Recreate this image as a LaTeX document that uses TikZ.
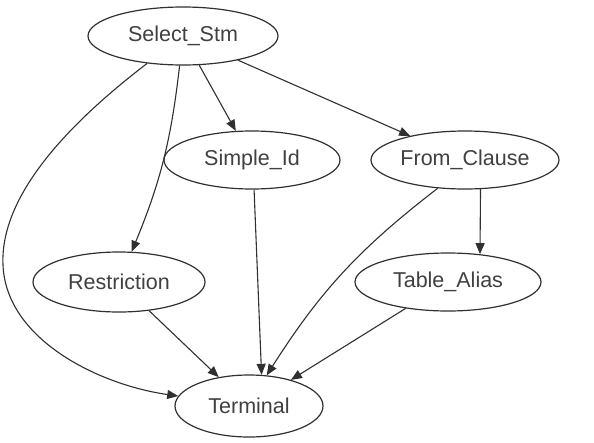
\documentclass[tikz,border=0pt]{standalone}
\usepackage{fontspec}
\setmainfont{Liberation Sans}
\usetikzlibrary{shapes.geometric,arrows.meta}
\definecolor{lncol}{HTML}{303030}
\definecolor{txcol}{HTML}{404040}
\tikzset{
  gnode/.style={ellipse, draw=lncol, line width=1.2pt, inner sep=0pt,
    font=\fontsize{21.5}{25}\selectfont, text=txcol},
  edge/.style={draw=lncol, line width=1.1pt, -{Triangle[length=11pt,width=9pt]}}
}
\begin{document}
\begin{tikzpicture}[x=1pt,y=-1pt]
\useasboundingbox (0,0) rectangle (594,442);
\node[gnode, minimum width=190pt, minimum height=58pt] (sel) at (183,36) {Select\_Stm};
\node[gnode, minimum width=176pt, minimum height=58pt] (simp) at (252,160) {Simple\_Id};
\node[gnode, minimum width=188pt, minimum height=58pt] (from) at (465,160) {From\_Clause};
\node[gnode, minimum width=172pt, minimum height=60pt] (res) at (119,282) {Restriction};
\node[gnode, minimum width=186pt, minimum height=58pt] (tab) at (448,282) {Table\_Alias};
\node[gnode, minimum width=148pt, minimum height=62pt] (term) at (249,406) {Terminal};
\coordinate (bend) at (3,265);
\draw[edge] (sel) -- (simp);
\draw[edge] (sel) -- (from);
\draw[edge] (sel) to[bend left=8] (res);
\draw[edge] (sel) .. controls (60,130) and (0,200) .. (bend) .. controls (6,340) and (100,385) .. (term);
\draw[edge] (simp.-86) -- (term.68);
\draw[edge] (from.-134) to[bend right=10] (term.60);
\draw[edge] (from.-62) -- (tab.41);
\draw[edge] (res) -- (term);
\draw[edge] (tab) -- (term);
\end{tikzpicture}
\end{document}
